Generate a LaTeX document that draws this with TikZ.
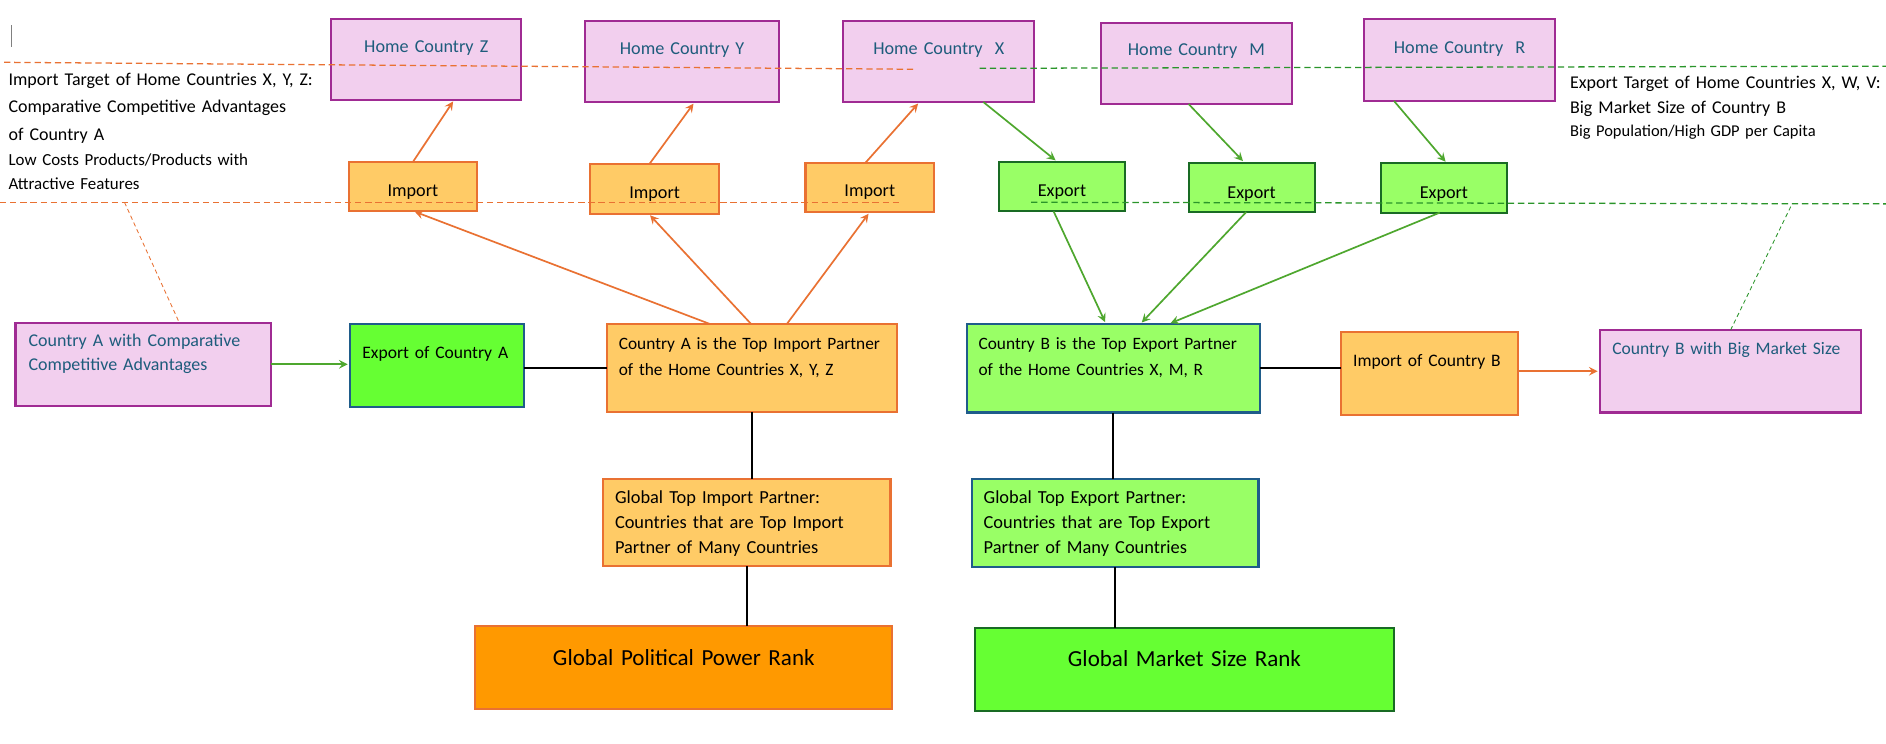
\documentclass[tikz,border=0pt]{standalone}
\usepackage{fontspec}
\setmainfont{Carlito}

\definecolor{pinkfill}{HTML}{F2CFEE}
\definecolor{purpleline}{HTML}{A02B93}
\definecolor{tealtext}{HTML}{1E5C7C}
\definecolor{orangefill}{HTML}{FFCB66}
\definecolor{orangeline}{HTML}{E97132}
\definecolor{limefill}{HTML}{99FF66}
\definecolor{brightgreen}{HTML}{66FF33}
\definecolor{darkgreen}{HTML}{196B24}
\definecolor{blueline}{HTML}{1F5C8A}
\definecolor{arrowgreen}{HTML}{4EA72E}
\definecolor{rankorange}{HTML}{FF9900}
\definecolor{dashgreen}{HTML}{2A952A}

\begin{document}
\begin{tikzpicture}[x=0.02cm, y=-0.02cm,
     boxbase/.style={font=\fontsize{8.6}{12.2}\selectfont, inner ysep=0pt, outer sep=0pt, anchor=north west, line width=1pt},
     homebox/.style={boxbase, draw=purpleline, fill=pinkfill, text=tealtext, align=center, inner xsep=0pt},
     importbox/.style={boxbase, draw=orangeline, fill=orangefill, align=center, inner xsep=0pt},
     exportbox/.style={boxbase, draw=darkgreen, fill=limefill, align=center, inner xsep=0pt},
     infobox/.style={boxbase, align=left},
     rankbox/.style={boxbase, font=\fontsize{10.9}{13}\selectfont, align=center, inner xsep=0pt},
     note/.style={font=\fontsize{8.5}{13.1}\selectfont, align=left, anchor=base west, inner sep=0pt, text width=5.6cm},
     flow/.style={-stealth, line width=0.8pt, shorten >=1pt},
     link/.style={line width=1pt},
     guide/.style={line width=0.6pt, dash pattern=on 3pt off 1.8pt},
     slant/.style={line width=0.4pt, dash pattern=on 2pt off 1.5pt}]

     % 背景
     \fill[white] (0,0) rectangle (1568,618);
     \useasboundingbox (0,0) rectangle (1568,618);
     \draw[gray, line width=0.4pt] (9.4,20.8) -- (9.4,38.8);

     % 本国
     \node[homebox, text width=3.156cm, text height=0.562cm, text depth=0.786cm] (hcZ) at (275.5,15.5) {Home Country Z};
     \node[homebox, text width=3.216cm, text height=0.556cm, text depth=0.796cm] (hcY) at (486.7,17.2) {Home Country Y};
     \node[homebox, text width=3.18cm, text height=0.556cm, text depth=0.796cm] (hcX) at (701,17.2) {Home Country~ X};
     \node[homebox, text width=3.172cm, text height=0.554cm, text depth=0.8cm] (hcM) at (915.4,18.8) {Home Country~ M};
     \node[homebox, text width=3.18cm, text height=0.566cm, text depth=0.794cm] (hcR) at (1134,16) {Home Country~ R};

     % 輸入・輸出
     \node[importbox, text width=2.122cm, text height=0.576cm, text depth=0.238cm] (imp1) at (290.2,134.7) {Import};
     \node[importbox, text width=2.138cm, text height=0.568cm, text depth=0.254cm] (imp2) at (490.8,136.6) {Import};
     \node[importbox, text width=2.138cm, text height=0.566cm, text depth=0.256cm] (imp3) at (669.7,135.2) {Import};
     \node[exportbox, text width=2.102cm, text height=0.572cm, text depth=0.254cm] (exp1) at (830.4,134.4) {Export};
     \node[exportbox, text width=2.096cm, text height=0.592cm, text depth=0.23cm] (exp2) at (988.2,135.2) {Export};
     \node[exportbox, text width=2.102cm, text height=0.58cm, text depth=0.24cm] (exp3) at (1147.9,135.8) {Export};

     % 説明
     \node[note] (impNote) at (6.8,70.7) {Import Target of Home Countries X, Y, Z:\\Comparative Competitive Advantages\\of Country A};
     \node[note, font=\fontsize{8.0}{10.9}\selectfont] (impNoteSub) at (6.8,138) {Low Costs Products/Products with\\Attractive Features};
     \node[note, font=\fontsize{8.5}{11.7}\selectfont] (expNote) at (1305,73.7) {Export Target of Home Countries X, W, V:\\Big Market Size of Country B};
     \node[note, font=\fontsize{7.8}{10}\selectfont] (expNoteSub) at (1305,113.7) {Big Population/High GDP per Capita};

     % 中段
     \node[infobox, draw=purpleline, fill=pinkfill, text=tealtext, font=\fontsize{8.5}{11.6}\selectfont, inner xsep=0.218cm, text width=3.812cm, text height=0.394cm, text depth=0.99cm] (cA) at (12.9,268.3) {Country A with Comparative\\Competitive Advantages};
     \node[infobox, draw=blueline, fill=brightgreen, font=\fontsize{8.3}{12}\selectfont, inner xsep=0.21cm, text width=2.472cm, text height=0.572cm, text depth=0.802cm] (expA) at (290.8,269.4) {Export of Country A};
     \node[infobox, draw=orangeline, fill=orangefill, font=\fontsize{8.2}{12.2}\selectfont, inner xsep=0.2cm, text width=4.424cm, text height=0.418cm, text depth=1.042cm] (topImp) at (504.5,269.5) {Country A is the Top Import Partner\\of the Home Countries X, Y, Z};
     \node[infobox, draw=blueline, fill=limefill, font=\fontsize{8.2}{12.2}\selectfont, inner xsep=0.2cm, text width=4.478cm, text height=0.42cm, text depth=1.052cm] (topExp) at (803.6,269.4) {Country B is the Top Export Partner\\of the Home Countries X, M, R};
     \node[infobox, draw=orangeline, fill=orangefill, font=\fontsize{8.3}{12}\selectfont, inner xsep=0.204cm, text width=2.536cm, text height=0.576cm, text depth=0.804cm] (impB) at (1114.8,276) {Import of Country B};
     \node[infobox, draw=purpleline, fill=pinkfill, text=tealtext, font=\fontsize{8.3}{12}\selectfont, inner xsep=0.21cm, text width=3.932cm, text height=0.412cm, text depth=0.96cm] (cB) at (1330,274.4) {Country B with Big Market Size};

     % 下段
     \node[infobox, draw=orangeline, fill=orangefill, font=\fontsize{8.7}{11.8}\selectfont, inner xsep=0.206cm, text width=4.376cm, text height=0.406cm, text depth=1.042cm] (glImp) at (501,398.2) {Global Top Import Partner:\\Countries that are Top Import\\Partner of Many Countries};
     \node[infobox, draw=blueline, fill=limefill, font=\fontsize{8.7}{11.8}\selectfont, inner xsep=0.196cm, text width=4.374cm, text height=0.406cm, text depth=1.058cm] (glExp) at (808,398.2) {Global Top Export Partner:\\Countries that are Top Export\\Partner of Many Countries};
     \node[rankbox, draw=orangeline, fill=rankorange, text width=6.934cm, text height=0.656cm, text depth=0.734cm] (polRank) at (395.2,520.2) {Global Political Power Rank};
     \node[rankbox, draw=darkgreen, fill=brightgreen, text width=6.966cm, text height=0.654cm, text depth=0.732cm] (mktRank) at (810.6,521.8) {Global Market Size Rank};

     % 補助線
     \coordinate (impTopL) at (3.4,51.8);
     \coordinate (impTopR) at (761.4,57.6);
     \coordinate (expTopL) at (814.5,56.8);
     \coordinate (expTopR) at (1568,55);
     \coordinate (impLowL) at (0,168.2);
     \coordinate (impLowR) at (749.5,168.2);
     \coordinate (expLowL) at (857.2,168.2);
     \coordinate (expLowR) at (1568,169.5);
     \coordinate (impSlant) at (103.5,168.2);
     \coordinate (expSlant) at (1488.8,171.8);
     \draw[guide, orangeline] (impTopL) -- (impTopR);
     \draw[guide, dashgreen] (expTopL) -- (expTopR);
     \draw[guide, orangeline] (impLowL) -- (impLowR);
     \draw[guide, dashgreen] (expLowL) -- (expLowR);
     \draw[slant, orangeline] (impSlant) -- ([xshift=0.6cm]cA.north);
     \draw[slant, dashgreen] (expSlant) -- (cB.north);

     % 矢印
     \draw[flow, orangeline] (imp1.north) -- ([xshift=0.466cm]hcZ.south);
     \draw[flow, orangeline] ([xshift=-0.09cm]imp2.north) -- ([xshift=0.21cm]hcY.south);
     \draw[flow, orangeline] ([xshift=-0.07cm]imp3.north) -- ([xshift=-0.32cm]hcX.south);
     \draw[flow, arrowgreen] ([xshift=0.74cm]hcX.south) -- ([xshift=-0.08cm]exp1.north);
     \draw[flow, arrowgreen] ([xshift=-0.13cm]hcM.south) -- ([xshift=-0.12cm]exp2.north);
     \draw[flow, arrowgreen] ([xshift=-1.09cm]hcR.south) -- ([xshift=0.05cm]exp3.north);

     \draw[flow, orangeline] ([xshift=-0.69cm]topImp.north) -- (imp1.south);
     \draw[flow, orangeline] ([xshift=-0.01cm]topImp.north) -- ([xshift=-0.1cm]imp2.south);
     \draw[flow, orangeline] ([xshift=0.58cm]topImp.north) -- (imp3.south);
     \draw[flow, arrowgreen] ([xshift=-0.14cm]exp1.south) -- ([xshift=-0.12cm]topExp.north);
     \draw[flow, arrowgreen] ([xshift=-0.09cm]exp2.south) -- ([xshift=0.45cm]topExp.north);
     \draw[flow, arrowgreen] ([xshift=-0.07cm]exp3.south) -- ([xshift=0.92cm]topExp.north);

     \draw[flow, arrowgreen] (cA.east) -- (cA.east -| expA.west);
     \draw[link] (topImp.west -| expA.east) -- (topImp.west);
     \draw[link] (topExp.east) -- (topExp.east -| impB.west);
     \draw[flow, orangeline] (cB.west -| impB.east) -- (cB.west);

     \draw[link] (topImp.south) -- (topImp.south |- glImp.north);
     \draw[link] (glImp.south) -- (glImp.south |- polRank.north);
     \draw[link] (topExp.south) -- (topExp.south |- glExp.north);
     \draw[link] (glExp.south) -- (glExp.south |- mktRank.north);
\end{tikzpicture}
\end{document}
